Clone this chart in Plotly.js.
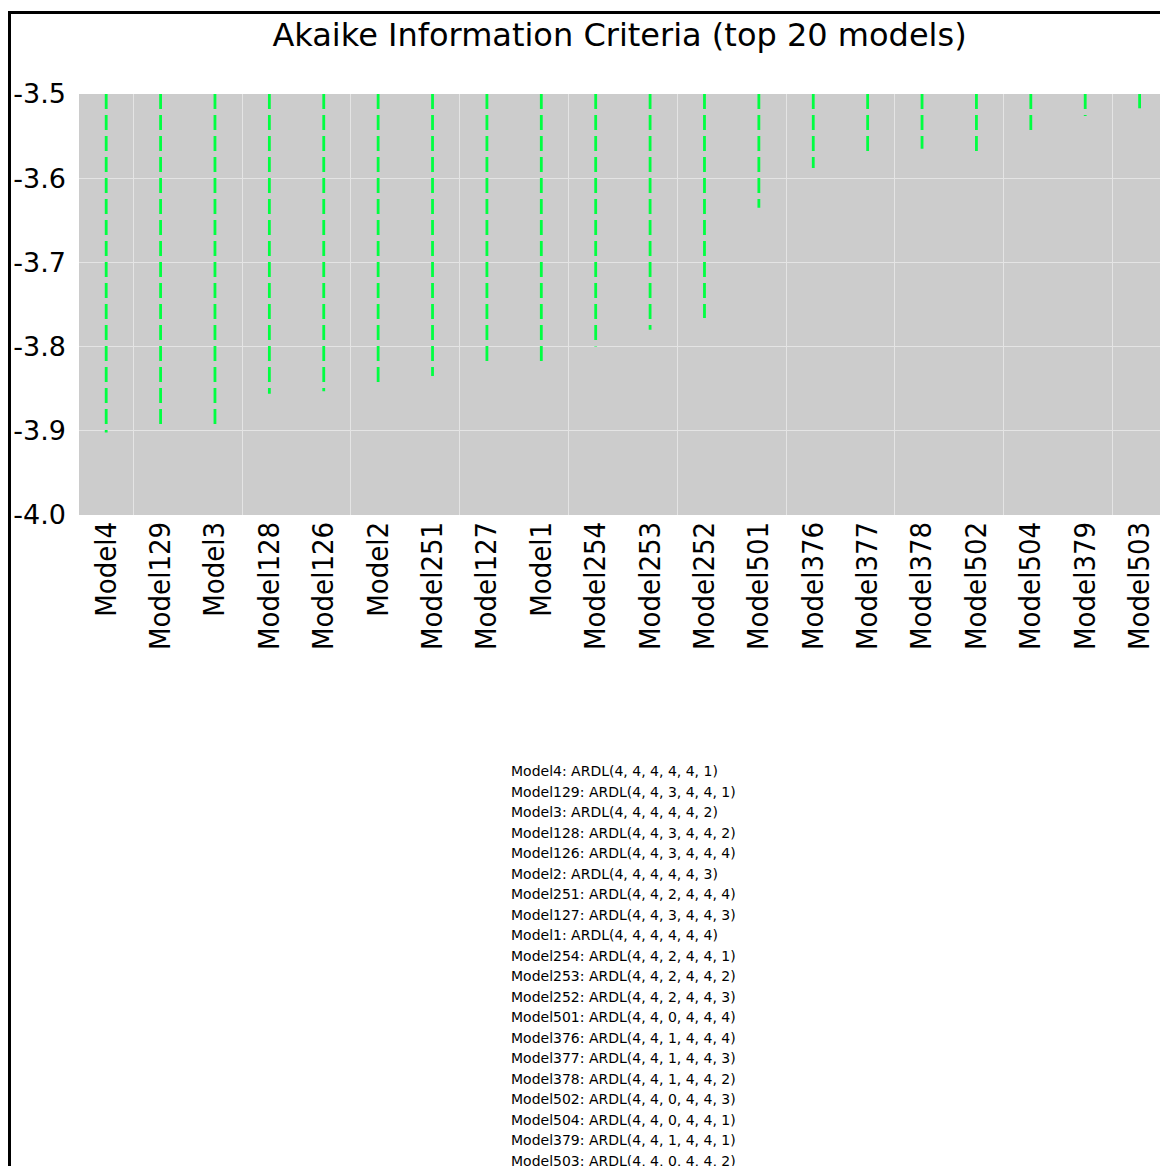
<!DOCTYPE html>
<html>
<head>
<meta charset="utf-8">
<script src="https://cdn.plot.ly/plotly-3.0.1.min.js"></script>
<style>
  html, body { margin: 0; padding: 0; background: #ffffff; overflow: hidden; }
  #chart { width: 1160px; height: 1166px; }
  #frame {
    position: absolute; left: 8px; top: 11px; width: 1200px; height: 1200px;
    border-top: 3px solid #000000; border-left: 3px solid #000000;
    pointer-events: none;
  }
</style>
</head>
<body>
<div id="chart"></div>
<div id="frame"></div>
<script>
// Top 20 ARDL models ranked by Akaike information criterion
const models = ["Model4", "Model129", "Model3", "Model128", "Model126", "Model2",
  "Model251", "Model127", "Model1", "Model254", "Model253", "Model252",
  "Model501", "Model376", "Model377", "Model378", "Model502", "Model504",
  "Model379", "Model503"];

const aic = [-3.902, -3.898, -3.897, -3.856, -3.853, -3.848,
  -3.835, -3.821, -3.817, -3.800, -3.780, -3.766,
  -3.635, -3.588, -3.570, -3.565, -3.568, -3.550,
  -3.526, -3.517];

const specs = ["ARDL(4, 4, 4, 4, 4, 1)", "ARDL(4, 4, 3, 4, 4, 1)", "ARDL(4, 4, 4, 4, 4, 2)",
  "ARDL(4, 4, 3, 4, 4, 2)", "ARDL(4, 4, 3, 4, 4, 4)", "ARDL(4, 4, 4, 4, 4, 3)",
  "ARDL(4, 4, 2, 4, 4, 4)", "ARDL(4, 4, 3, 4, 4, 3)", "ARDL(4, 4, 4, 4, 4, 4)",
  "ARDL(4, 4, 2, 4, 4, 1)", "ARDL(4, 4, 2, 4, 4, 2)", "ARDL(4, 4, 2, 4, 4, 3)",
  "ARDL(4, 4, 0, 4, 4, 4)", "ARDL(4, 4, 1, 4, 4, 4)", "ARDL(4, 4, 1, 4, 4, 3)",
  "ARDL(4, 4, 1, 4, 4, 2)", "ARDL(4, 4, 0, 4, 4, 3)", "ARDL(4, 4, 0, 4, 4, 1)",
  "ARDL(4, 4, 1, 4, 4, 1)", "ARDL(4, 4, 0, 4, 4, 2)"];

const yTickVals = [-4.0, -3.9, -3.8, -3.7, -3.6, -3.5];
const yTickText = ["-4.0", "-3.9", "-3.8", "-3.7", "-3.6", "-3.5"];

const yTop = -3.5;
const yBottom = -4.0;

// Each model is its own dashed drop line from the top of the axis down to its AIC value,
// so every line starts its dash pattern afresh
const idx = models.map((_, i) => i);
const traces = idx.map(i => ({
  type: "scatter",
  mode: "lines",
  x: [i, i],
  y: [yTop, aic[i]],
  line: { color: "#00ff41", width: 2.8, dash: "15px,6px" },
  hoverinfo: "skip",
  showlegend: false
}));

// Key below the chart: one line per model
const keyLines = models.map((m, i) => ({
  text: m + ": " + specs[i],
  xref: "paper", yref: "paper",
  x: 0.3982, y: 0,
  xanchor: "left", yanchor: "middle",
  yshift: -256 - i * 20.5,
  showarrow: false,
  font: { family: "DejaVu Sans, Verdana, sans-serif", size: 14, color: "#000000" }
}));

const layout = {
  width: 1160,
  height: 1166,
  margin: { l: 79, r: 0, t: 94, b: 651 },
  paper_bgcolor: "rgba(0,0,0,0)",
  plot_bgcolor: "#cccccc",
  showlegend: false,
  title: {
    text: "Akaike Information Criteria (top 20 models)",
    font: { family: "DejaVu Sans, Verdana, sans-serif", size: 32, color: "#000000" },
    xref: "paper", x: 0.5, xanchor: "center",
    yref: "container", y: 1 - 35 / 1166, yanchor: "middle"
  },
  xaxis: {
    type: "linear",
    range: [-0.5, 19.375],
    tickmode: "array",
    tickvals: idx,
    ticktext: models,
    tickangle: -90,
    ticks: "",
    showgrid: false,
    zeroline: false,
    showline: false,
    fixedrange: true,
    tickfont: { family: "Liberation Sans Narrow, DejaVu Sans Condensed, sans-serif", size: 29, color: "#000000" },
    minor: { tickmode: "linear", tick0: 0.5, dtick: 2, showgrid: true, gridcolor: "#e4e4e4", gridwidth: 1, ticks: "" }
  },
  yaxis: {
    range: [yBottom, yTop],
    tickmode: "array",
    tickvals: yTickVals,
    ticktext: yTickText,
    ticks: "",
    showgrid: true,
    gridcolor: "#e4e4e4",
    gridwidth: 1,
    zeroline: false,
    showline: false,
    fixedrange: true,
    ticklabelstandoff: 12,
    tickfont: { family: "DejaVu Sans, Verdana, sans-serif", size: 27, color: "#000000" }
  },
  annotations: keyLines
};

Plotly.newPlot("chart", traces, layout, { displayModeBar: false, staticPlot: true });
</script>
</body>
</html>
